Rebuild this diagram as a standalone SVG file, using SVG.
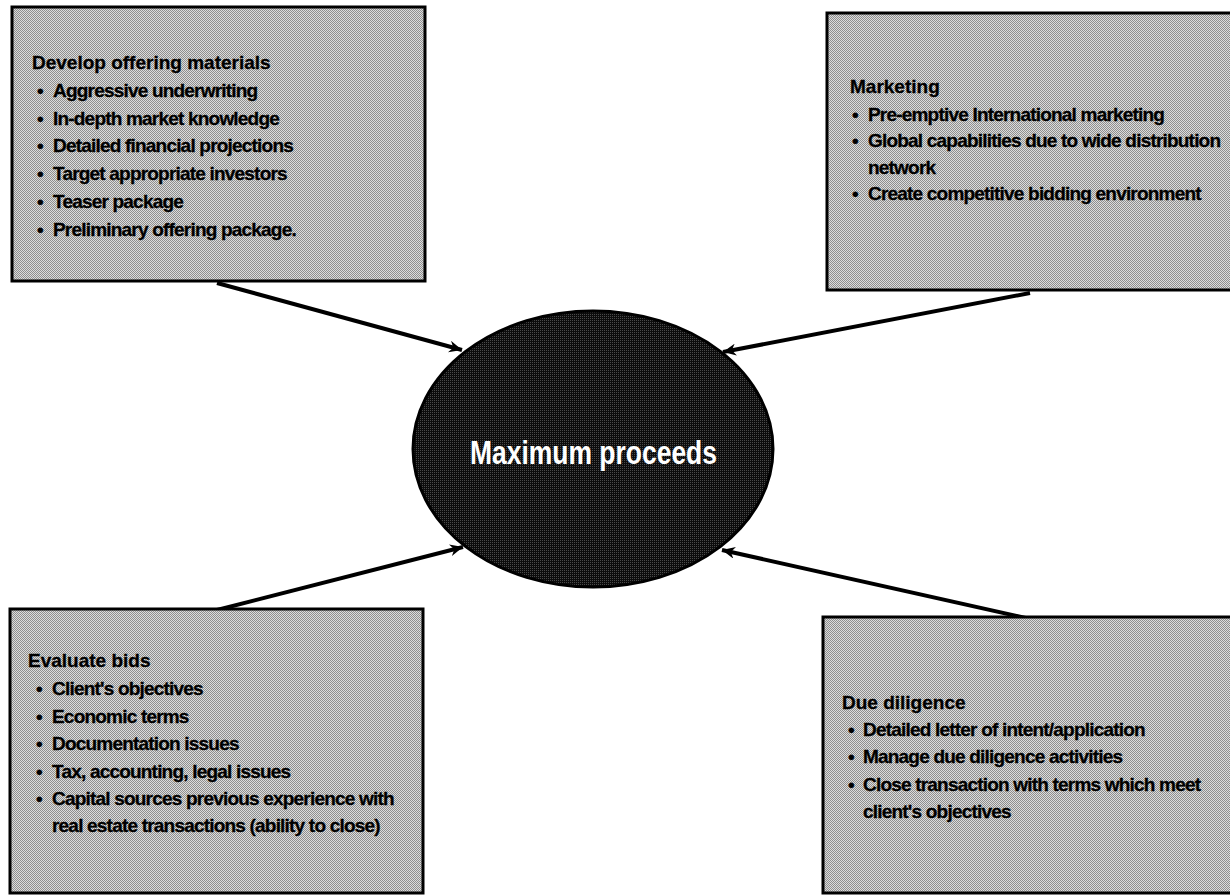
<svg xmlns="http://www.w3.org/2000/svg" width="1230" height="895" viewBox="0 0 1230 895">
  <defs>
    <!-- halftone-like fills -->
    <pattern id="boxFill" patternUnits="userSpaceOnUse" width="2" height="2">
      <rect width="2" height="2" fill="#dcdcdc"/>
      <rect width="1" height="1" fill="#8e8e8e"/>
      <rect x="1" y="1" width="1" height="1" fill="#8e8e8e"/>
    </pattern>
    <pattern id="hubFill" patternUnits="userSpaceOnUse" width="2" height="2">
      <rect width="2" height="2" fill="#0c0c0c"/>
      <rect width="1" height="1" fill="#4a4a4a"/>
    </pattern>
    <marker id="arrow" markerUnits="userSpaceOnUse" markerWidth="14" markerHeight="12" refX="13" refY="6" orient="auto">
      <path d="M0,0 L13,6 L0,12 L4,6 z" fill="#000"/>
    </marker>
    <style>
      .box { fill: url(#boxFill); stroke: #000; stroke-width: 3; }
      .hub { fill: url(#hubFill); stroke: #000; stroke-width: 3; }
      .t { font-family: "Liberation Sans", Arial, sans-serif; font-weight: bold; font-size: 19px; fill: #000; stroke: #000; stroke-width: 0.3; letter-spacing: -0.8px; }
      .h { font-family: "Liberation Sans", Arial, sans-serif; font-weight: bold; font-size: 19px; fill: #000; stroke: #000; stroke-width: 0.3; }
      .hubText { font-family: "Liberation Sans", Arial, sans-serif; font-weight: bold; font-size: 33px; fill: #fff; }
      .link { stroke: #000; stroke-width: 4; fill: none; marker-end: url(#arrow); }
    </style>
  </defs>

  <rect width="1230" height="895" fill="#fff"/>

  <g id="connectors">
    <line class="link" x1="217" y1="283" x2="462" y2="350"/>
    <line class="link" x1="1030" y1="293" x2="723" y2="352"/>
    <line class="link" x1="217" y1="610" x2="463" y2="547"/>
    <line class="link" x1="1030" y1="619" x2="722" y2="550"/>
  </g>

  <g id="develop-offering">
    <rect class="box" x="12" y="7" width="413" height="274"/>
    <text class="h" x="32" y="69">Develop offering materials</text>
    <text class="t" x="37" y="97">•</text><text class="t" x="53" y="97">Aggressive underwriting</text>
    <text class="t" x="37" y="125">•</text><text class="t" x="53" y="125">In-depth market knowledge</text>
    <text class="t" x="37" y="152">•</text><text class="t" x="53" y="152">Detailed financial projections</text>
    <text class="t" x="37" y="180">•</text><text class="t" x="53" y="180">Target appropriate investors</text>
    <text class="t" x="37" y="208">•</text><text class="t" x="53" y="208">Teaser package</text>
    <text class="t" x="37" y="236">•</text><text class="t" x="53" y="236">Preliminary offering package.</text>
  </g>

  <g id="marketing">
    <rect class="box" x="827" y="13" width="410" height="277"/>
    <text class="h" x="850" y="93">Marketing</text>
    <text class="t" x="852" y="121">•</text><text class="t" x="868" y="121">Pre-emptive International marketing</text>
    <text class="t" x="852" y="147">•</text><text class="t" x="868" y="147">Global capabilities due to wide distribution</text>
    <text class="t" x="868" y="174">network</text>
    <text class="t" x="852" y="200">•</text><text class="t" x="868" y="200">Create competitive bidding environment</text>
  </g>

  <g id="evaluate-bids">
    <rect class="box" x="10" y="609" width="413" height="284"/>
    <text class="h" x="28" y="667">Evaluate bids</text>
    <text class="t" x="36" y="695">•</text><text class="t" x="52" y="695">Client's objectives</text>
    <text class="t" x="36" y="723">•</text><text class="t" x="52" y="723">Economic terms</text>
    <text class="t" x="36" y="750">•</text><text class="t" x="52" y="750">Documentation issues</text>
    <text class="t" x="36" y="778">•</text><text class="t" x="52" y="778">Tax, accounting, legal issues</text>
    <text class="t" x="36" y="805">•</text><text class="t" x="52" y="805">Capital sources previous experience with</text>
    <text class="t" x="52" y="832">real estate transactions (ability to close)</text>
  </g>

  <g id="due-diligence">
    <rect class="box" x="823" y="617" width="415" height="276"/>
    <text class="h" x="842" y="709">Due diligence</text>
    <text class="t" x="848" y="736">•</text><text class="t" x="863" y="736">Detailed letter of intent/application</text>
    <text class="t" x="848" y="763">•</text><text class="t" x="863" y="763">Manage due diligence activities</text>
    <text class="t" x="848" y="791">•</text><text class="t" x="863" y="791">Close transaction with terms which meet</text>
    <text class="t" x="863" y="818">client's objectives</text>
  </g>

  <g id="maximum-proceeds">
    <ellipse class="hub" cx="593" cy="449" rx="180" ry="138"/>
    <text class="hubText" x="470" y="464" textLength="247" lengthAdjust="spacingAndGlyphs">Maximum proceeds</text>
  </g>
</svg>
